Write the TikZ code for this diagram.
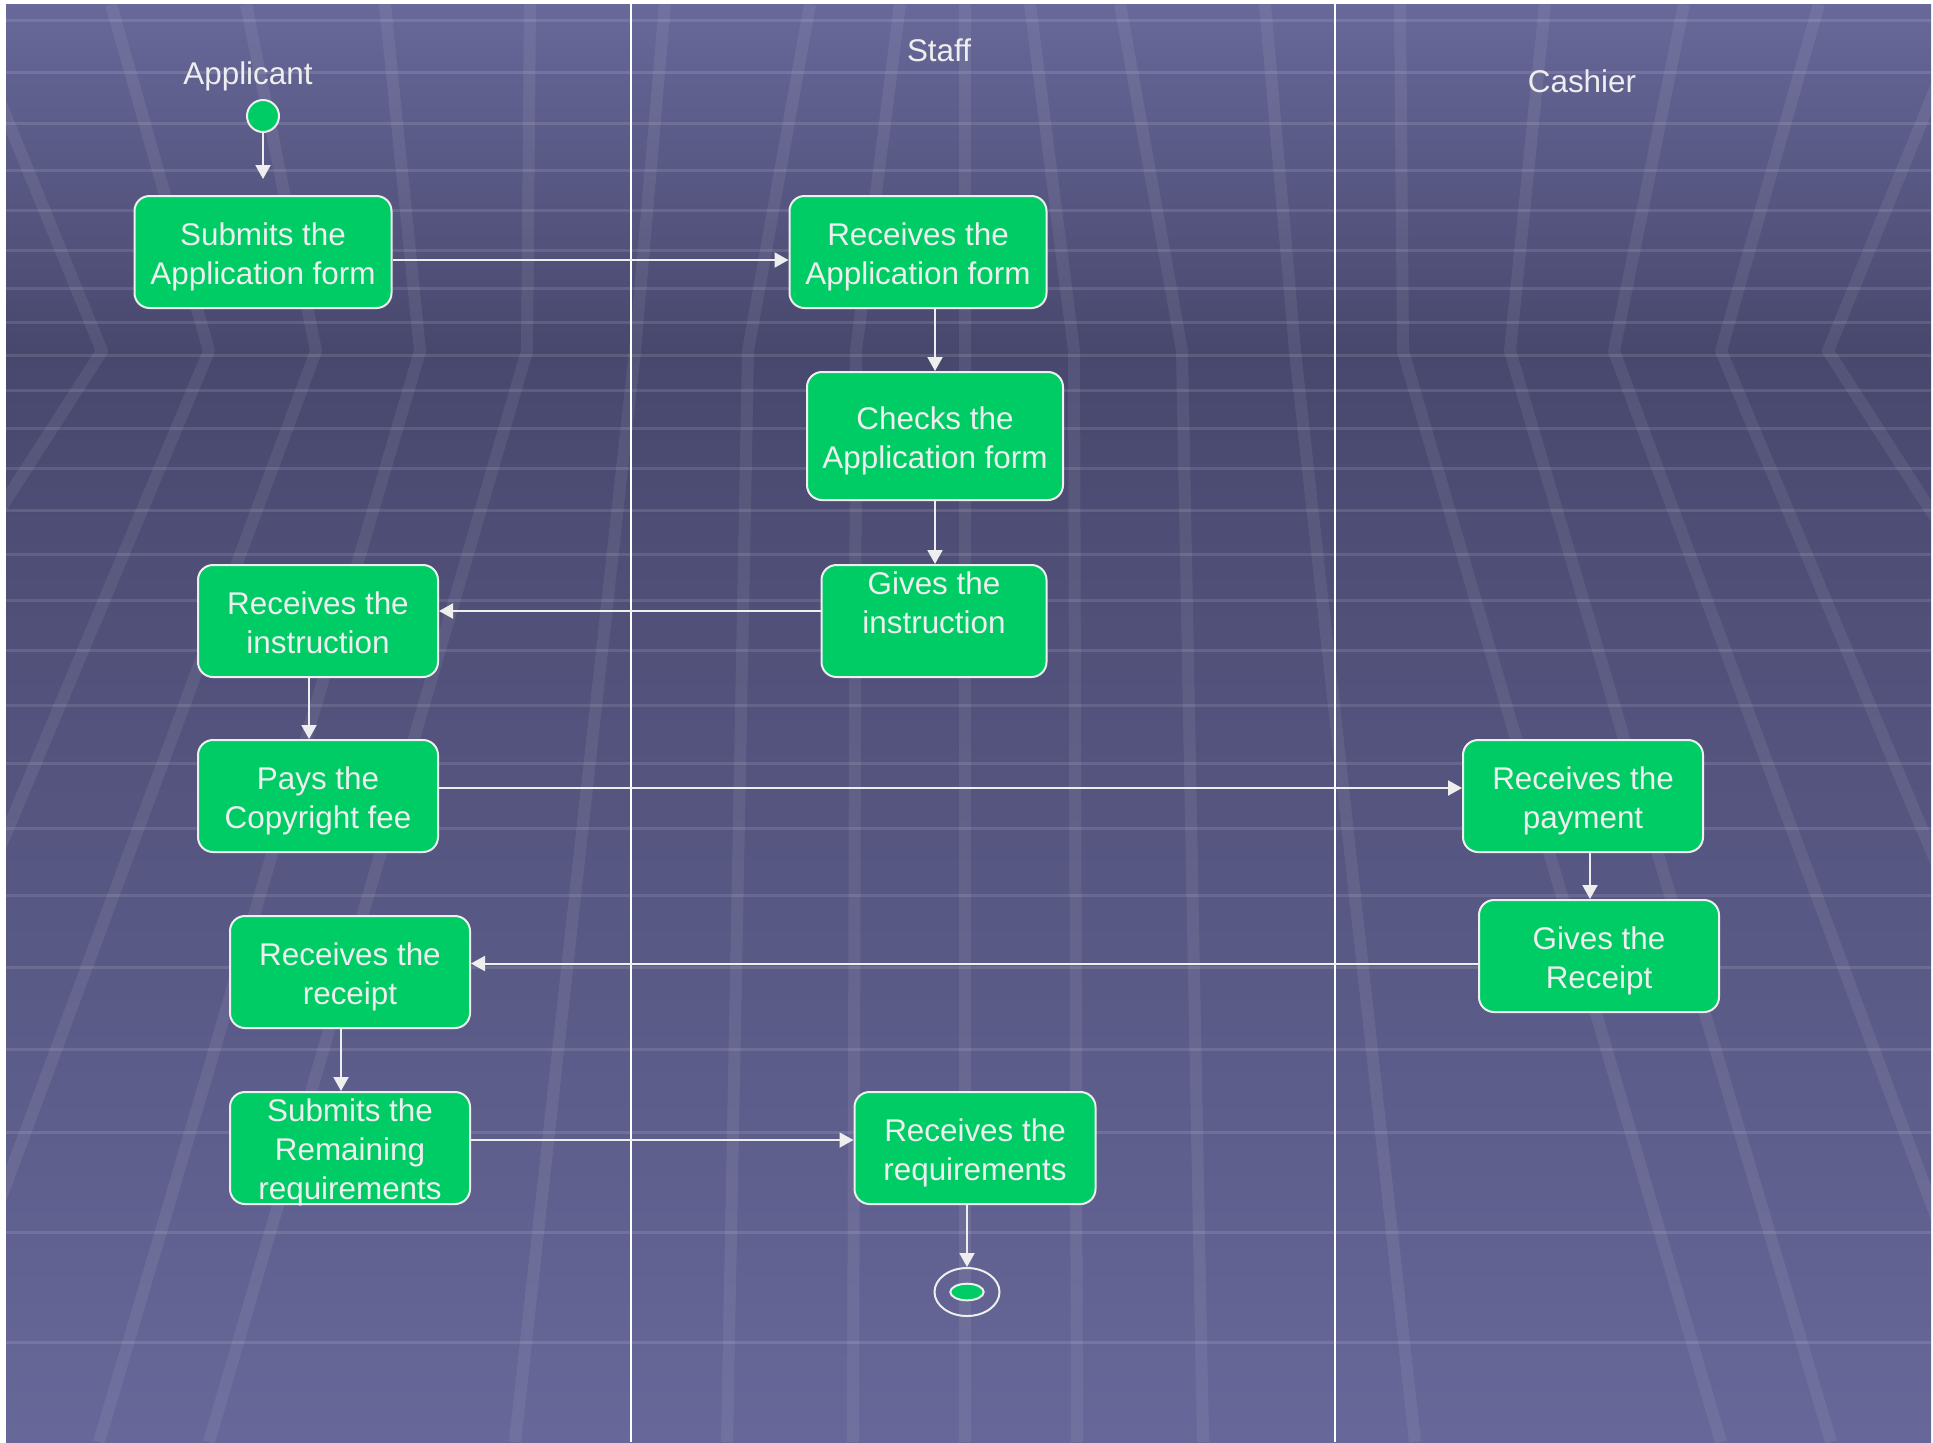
\documentclass[tikz,border=0pt]{standalone}
\usepackage{fontspec}
\setmainfont{Liberation Sans}
\usepackage{xcolor}
\usetikzlibrary{arrows.meta,shapes.geometric}
\definecolor{actgreen}{RGB}{0,204,102}
\definecolor{edgegray}{RGB}{238,238,238}
\definecolor{bgtop}{RGB}{104,104,154}
\definecolor{bgmid}{RGB}{72,72,110}
\definecolor{bgbot}{RGB}{103,103,153}
\pgfdeclareverticalshading{lanebg}{100bp}{color(0bp)=(bgbot); color(25bp)=(bgbot); color(63bp)=(bgmid); color(75bp)=(bgtop); color(100bp)=(bgtop)}
\tikzset{>={Triangle[length=7pt,width=7.5pt]}}
% text height sets how far the last line sits below the centre
\tikzset{
  activity/.style={
    draw=edgegray, line width=1pt, fill=actgreen, rounded corners=7.5pt,
    text=edgegray, align=center, inner sep=0pt, minimum height=56pt,
    text height=32pt, text depth=0pt,
    font=\fontsize{15.7}{19.4}\selectfont}}
\tikzset{
  lanetitle/.style={text=edgegray, anchor=base, inner sep=0pt,
    font=\fontsize{15.7}{19}\selectfont}}
\tikzset{
  flow/.style={->, draw=edgegray, line width=1pt}}
\tikzset{
  ray/.style={white, opacity=0.07, line width=6pt, line join=round}}
\tikzset{
  stripe/.style={white, opacity=0.11, line width=1.5pt}}

\begin{document}
\begin{tikzpicture}[x=0.5pt,y=-0.5pt]
    \useasboundingbox (0,0) rectangle (1933,1442);
    % background
    \shade[shading=lanebg] (6,4) rectangle (1931,1442);
    \begin{scope}
        \clip (6,4) rectangle (1931,1442);
        \foreach \y in {20,72,123,170,210,250,288,322,355,390,428,468,510,554,600,650,705,763,828,895,967,1049,1132,1232,1342}
            \draw[stripe] (6,\y) -- (1931,\y);
        \foreach \ax/\tx/\bx in {102/-40/-600,209/111/-250,316/246/-90,420/385/99,527/530/209,635/665/515,748/810/727}{
            \draw[ray] (\tx,4) -- (\ax,351) -- (\bx,1442);
            \draw[ray] ({1930-(\tx)},4) -- ({1930-(\ax)},351) -- ({1930-(\bx)},1442);
        }
        \draw[ray] (900,4) -- (856,351) -- (853,1442);
        \draw[ray] (1030,4) -- (1074,351) -- (1077,1442);
        \draw[ray] (965,4) -- (965,1442);
    \end{scope}
    % lanes
    \draw[white,line width=1pt] (631,4) -- (631,1442);
    \draw[white,line width=1pt] (1335,4) -- (1335,1442);
    \node[lanetitle](applicant) at (248,84) {Applicant};
    \node[lanetitle](staff) at (939,61) {Staff};
    \node[lanetitle](cashier) at (1582,92) {Cashier};
    % activities
    \node[circle,draw=edgegray,line width=1pt,fill=actgreen,minimum size=16pt,inner sep=0pt](start) at (263,116) {};
    \coordinate (startend) at (263,179);
    \node[activity,minimum width=128.5pt](subform) at (263,252) {Submits the\\Application form};
    \node[activity,minimum width=128.5pt](recform) at (918,252) {Receives the\\Application form};
    \node[activity,minimum width=128pt,minimum height=64pt](chkform) at (935,436) {Checks the\\Application form};
    \node[activity,minimum width=112.5pt,text height=12.5pt](giveinst) at (934,621) {Gives the\\instruction};
    \node[activity,minimum width=120pt](recinst) at (318,621) {Receives the\\instruction};
    \node[activity,minimum width=120pt](payfee) at (318,796) {Pays the\\Copyright fee};
    \node[activity,minimum width=120pt](recpay) at (1583,796) {Receives the\\payment};
    \node[activity,minimum width=120pt](givercpt) at (1599,956) {Gives the\\Receipt};
    \node[activity,minimum width=120pt](recrcpt) at (350,972) {Receives the\\receipt};
    \node[activity,minimum width=120pt,text height=51pt](subreq) at (350,1148) {Submits the\\Remaining\\requirements};
    \node[activity,minimum width=120.5pt](recreq) at (975,1148) {Receives the\\requirements};
    \node[ellipse,draw=edgegray,line width=1pt,minimum width=32.5pt,minimum height=24pt,inner sep=0pt](finish) at (967,1292) {};
    \node[ellipse,draw=edgegray,line width=1pt,fill=actgreen,minimum width=16.7pt,minimum height=8.3pt,inner sep=0pt](finishdot) at (finish.center) {};
    % flows
    \draw[flow] (start) -- (startend);
    \draw[flow] ([yshift=-4pt]subform.east) -- ([yshift=-4pt]recform.west);
    \draw[flow] (chkform.north |- recform.south) -- (chkform.north);
    \draw[flow] (chkform.south) -- (chkform.south |- giveinst.north);
    \draw[flow] ([yshift=5pt]giveinst.west) -- ([yshift=5pt]recinst.east);
    \draw[flow] ([xshift=-4.5pt]recinst.south) -- ([xshift=-4.5pt]payfee.north);
    \draw[flow] ([yshift=4pt]payfee.east) -- ([yshift=4pt]recpay.west);
    \draw[flow] ([xshift=3.5pt]recpay.south) -- ([xshift=3.5pt]recpay.south |- givercpt.north);
    \draw[flow] ([yshift=-3.75pt]givercpt.west) -- ([yshift=-3.75pt]givercpt.west -| recrcpt.east);
    \draw[flow] ([xshift=-4.5pt]recrcpt.south) -- ([xshift=-4.5pt]subreq.north);
    \draw[flow] ([yshift=4pt]subreq.east) -- ([yshift=4pt]recreq.west);
    \draw[flow] (finish.north |- recreq.south) -- (finish.north);
\end{tikzpicture}
\end{document}
